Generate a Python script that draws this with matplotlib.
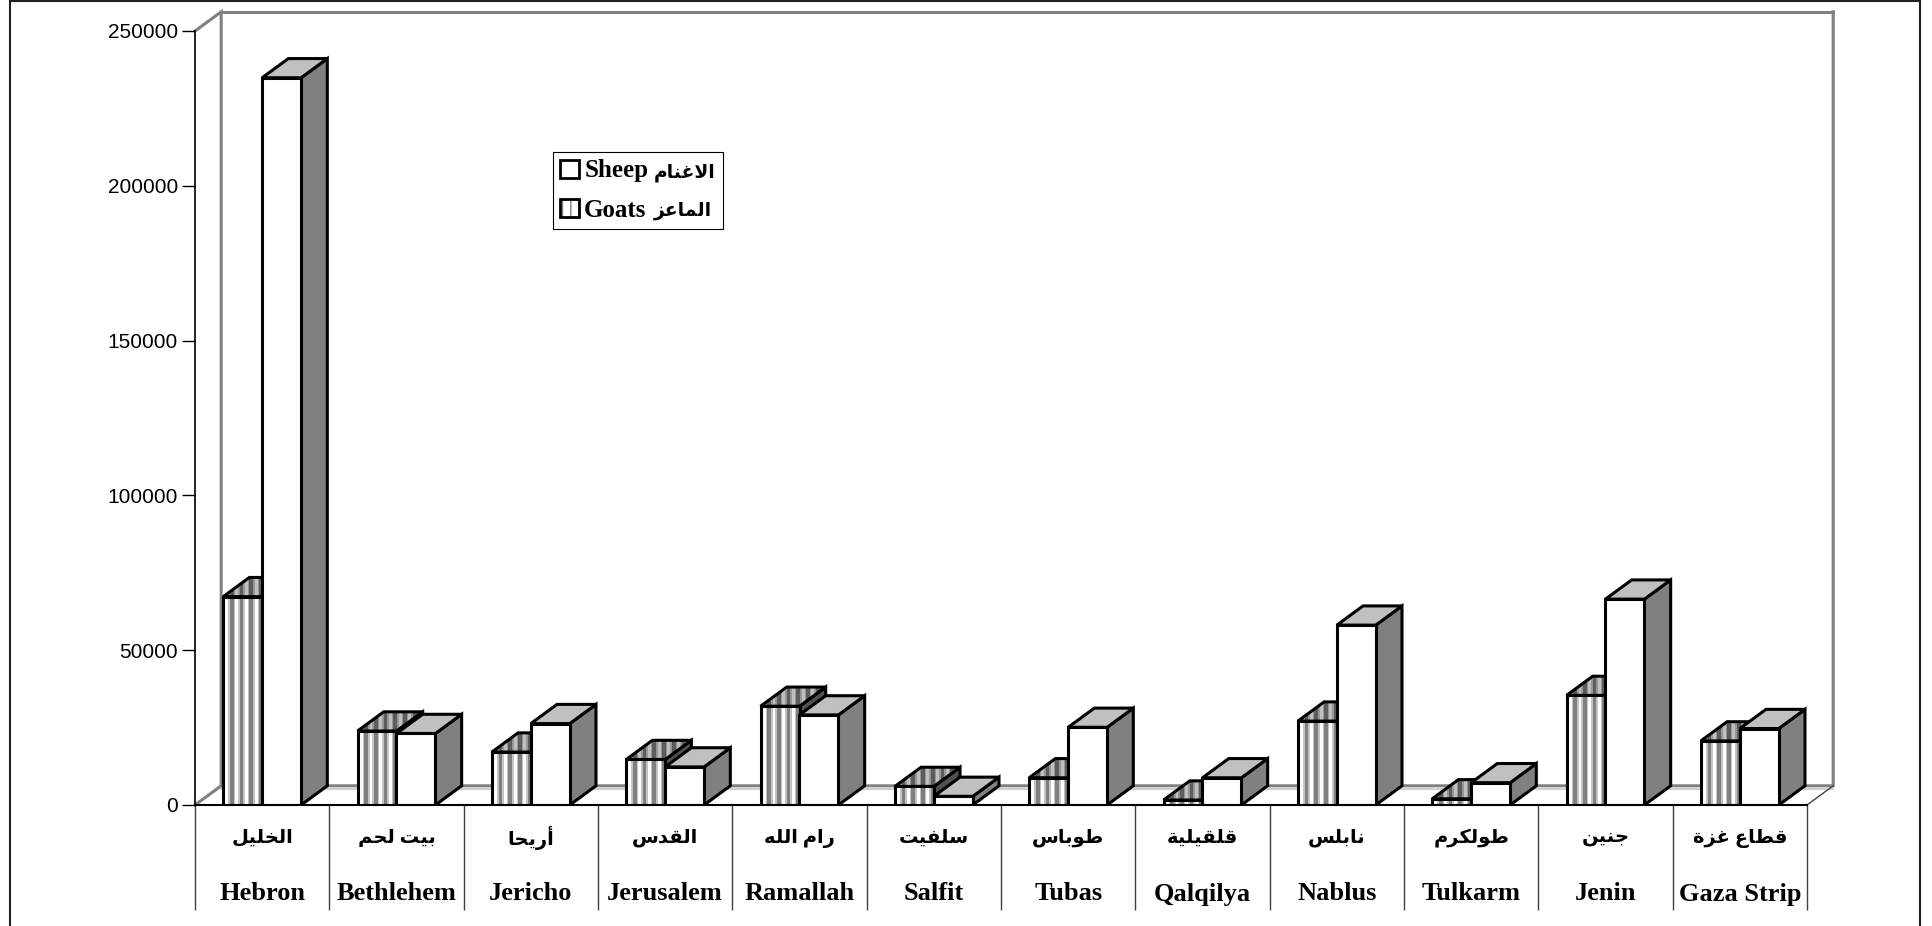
import matplotlib
matplotlib.use("Agg")
import matplotlib.pyplot as plt
from matplotlib.legend_handler import HandlerTuple
from matplotlib.patches import Patch, Polygon, Rectangle

names_en = ["Hebron", "Bethlehem", "Jericho", "Jerusalem", "Ramallah", "Salfit",
            "Tubas", "Qalqilya", "Nablus", "Tulkarm", "Jenin", "Gaza Strip"]
names_ar = ["الخليل", "بيت لحم", "أريحا", "القدس", "رام الله", "سلفيت",
            "طوباس", "قلقيلية", "نابلس", "طولكرم", "جنين", "قطاع غزة"]
goats = [67300, 23900, 17100, 14700, 31900, 6000, 8800, 1600, 27100, 2000, 35400, 20700]
sheep = [234900, 23100, 26300, 12300, 29100, 2800, 25100, 8800, 58100, 7200, 66500, 24700]
y_ticks = [0, 50000, 100000, 150000, 200000, 250000]

W, H = 1933, 926
SERIF = ["Liberation Serif", "DejaVu Sans"]
DX, DY = 0.195, 6200   # depth of the fake 3d, in data units
BAR = 0.29

# matplotlib does no arabic shaping, so pick presentation forms by hand
TWO_FORMS = {"ا": 0xFE8D, "أ": 0xFE83, "د": 0xFEA9, "ر": 0xFEAD, "ز": 0xFEAF,
             "و": 0xFEED, "ة": 0xFE93, "\uFEFB": 0xFEFB}
FOUR_FORMS = {"ب": 0xFE8F, "ت": 0xFE95, "ج": 0xFE9D, "ح": 0xFEA1, "خ": 0xFEA5,
              "س": 0xFEB1, "ط": 0xFEC1, "ع": 0xFEC9, "غ": 0xFECD, "ف": 0xFED1,
              "ق": 0xFED5, "ك": 0xFED9, "ل": 0xFEDD, "م": 0xFEE1, "ن": 0xFEE5,
              "ه": 0xFEE9, "ي": 0xFEF1}


def shape_arabic(word):
    """ Returns word in visual order, with joined letter forms """
    word = word.replace("لا", "\uFEFB")
    out = []
    for i, c in enumerate(word):
        joins_prev = i > 0 and word[i - 1] in FOUR_FORMS
        joins_next = i < len(word) - 1 and (word[i + 1] in FOUR_FORMS or word[i + 1] in TWO_FORMS)
        if c in FOUR_FORMS:
            if joins_prev and joins_next:
                form = 3
            elif joins_next:
                form = 2
            else:
                form = 1 if joins_prev else 0
            out.append(chr(FOUR_FORMS[c] + form))
        elif c in TWO_FORMS:
            out.append(chr(TWO_FORMS[c] + (1 if joins_prev else 0)))
        else:
            out.append(c)
    return "".join(reversed(out))


def stripes(ax, poly, x0, n, core, halo):
    """ Vertical stripes from x0 on, a fixed pitch apart, clipped to the polygon """
    step = BAR / 4
    for k in range(n):
        centre = x0 + step * (k + 0.88)
        for w, col in [(step * 0.7, halo), (step * 0.38, core)]:
            r = Rectangle((centre - w / 2, 0), w, 270000, fc=col, ec="none", zorder=poly.get_zorder())
            ax.add_patch(r)
            r.set_clip_path(poly)


def draw_bar(ax, x, val, striped, z):
    """ One fake 3d bar: side, top, then the front face """
    w = BAR
    side = Polygon([(x + w, 0), (x + w + DX, DY), (x + w + DX, val + DY), (x + w, val)],
                   fc="#505050" if striped else "#808080", ec="black", lw=2.2, joinstyle="miter", zorder=z)
    top = Polygon([(x, val), (x + DX, val + DY), (x + w + DX, val + DY), (x + w, val)],
                  fc="#c0c0c0", ec="none", zorder=z)
    front = Rectangle((x, 0), w, val, fc="white", ec="none", zorder=z)
    for p in (side, top, front):
        ax.add_patch(p)
    if striped:
        stripes(ax, front, x, 4, "#808080", "#c4c4c4")
        stripes(ax, top, x, 7, "#5c5c5c", "#969696")
    ax.add_patch(Polygon(top.get_xy(), fc="none", ec="black", lw=2.2, joinstyle="miter", zorder=z))
    ax.add_patch(Rectangle((x, 0), w, val, fc="none", ec="black", lw=2.2, joinstyle="miter", zorder=z))


fig = plt.figure(figsize=(W / 100, H / 100), dpi=100)
ax = fig.add_axes([195 / W, 1 - 805 / H, (1807 - 195) / W, (805 - 31) / H])
ax.set_xlim(0, 12)
ax.set_ylim(0, 250000)

# outer frame of the picture
fig.add_artist(Rectangle((10 / W, -0.1), (1920 - 10) / W, 1.1 - 1.5 / H, transform=fig.transFigure,
                         fc="none", ec="#202020", lw=1.5))

# back wall and floor
wall = dict(color="#808080", lw=2.2, clip_on=False, zorder=1, solid_joinstyle="miter")
ax.plot([0, DX, DX, 12 + DX, 12 + DX], [250000, 250000 + DY, DY, DY, 250000 + DY], **wall)
ax.plot([DX, 12 + DX], [250000 + DY, 250000 + DY], **wall)
ax.plot([0, DX], [0, DY], **wall)
ax.plot([DX, 12 + DX], [DY - 900, DY - 900], color="#d0d0d0", lw=1.5, clip_on=False, zorder=1)
ax.plot([12, 12 + DX], [0, DY], color="#404040", lw=1, clip_on=False, zorder=1)

for i in range(12):
    draw_bar(ax, i + 0.5 - BAR, goats[i], True, 3 + 2 * i)
    draw_bar(ax, i + 0.5, sheep[i], False, 4 + 2 * i)
    ax.annotate(shape_arabic(names_ar[i]), (i + 0.5, 0), xytext=(0, -33), textcoords="offset pixels",
                ha="center", va="center", family=SERIF, weight="bold", fontsize=14)
    ax.annotate(names_en[i], (i + 0.5, 0), xytext=(0, -89), textcoords="offset pixels",
                ha="center", va="center", family=SERIF, weight="bold", fontsize=19)

for s in ("top", "right"):
    ax.spines[s].set_visible(False)
ax.spines["left"].set_linewidth(1.2)
ax.spines["bottom"].set_linewidth(1.5)
ax.spines["bottom"].set_zorder(40)

ax.set_xticks(range(13))
ax.set_xticklabels([])
ax.tick_params(axis="x", length=75.6, width=1, color="#404040")
ax.set_yticks(y_ticks)
ax.set_yticklabels([str(v) for v in y_ticks], family="Liberation Sans", fontsize=15)
ax.tick_params(axis="y", length=9.4, width=1, pad=3)

# two legend columns: the arabic runs narrower than the latin, so it gets its own size
sheep_handle = Patch(fc="white", ec="black", lw=2)
goat_handle = (Patch(fc="white", ec="#808080", hatch="||"), Patch(fc="none", ec="black", lw=2))
empty = Patch(fc="none", ec="none")
leg = ax.legend([sheep_handle, goat_handle, empty, empty],
                ["Sheep", "Goats", shape_arabic("الاغنام"), shape_arabic("الماعز")],
                handler_map={tuple: HandlerTuple(ndivide=1, pad=0)}, ncols=2,
                loc="upper left", bbox_to_anchor=((553 - 195) / 1612, (805 - 152) / 774),
                prop=dict(family=SERIF, weight="bold", size=18), fancybox=False, framealpha=1,
                edgecolor="black", handlelength=0.75, handleheight=0.75, handletextpad=0.2,
                borderpad=0.3, labelspacing=0.65, borderaxespad=0, columnspacing=-0.72)
leg.get_frame().set_linewidth(0.8)
leg.set_zorder(50)
for t in leg.get_texts()[2:]:
    t.set_fontsize(13.5)

fig.savefig("out.png", dpi=100)
